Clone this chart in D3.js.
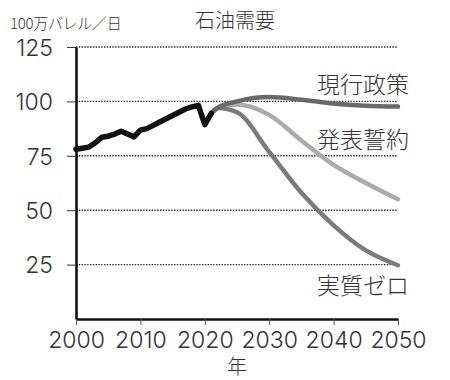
<!DOCTYPE html>
<html><head><meta charset="utf-8">
<script src="https://cdn.jsdelivr.net/npm/d3@7"></script>
<style>
html,body{margin:0;padding:0;background:#fff;}
svg{display:block;}
</style></head>
<body>
<script>
const histYears = [2000,2001,2002,2003,2004,2005,2006,2007,2008,2009,2010,2011,2012,2013,2014,2015,2016,2017,2018,2019,2020,2021];
const histValues = [78,78.5,79,81,83.5,84,85,86.3,85,83.7,86.8,87.5,89,90.5,92,93.5,95,96.5,97.5,98.2,89.3,94.5];
const projYears = [2021,2022,2025,2030,2035,2040,2045,2050];
const stepsValues = [94.5,97,100,102,100.8,99,98,97.6];   // 現行政策
const apsValues   = [94.5,97,98.6,93.8,82,70.8,62.5,55];  // 発表誓約
const nzeValues   = [94.5,97,95,76.8,58,43,31.5,24.7];    // 実質ゼロ
const yTicks = [25,50,75,100,125];
const xTicks = [2000,2010,2020,2030,2040,2050];
const seriesNames = ["現行政策","発表誓約","実質ゼロ"];
const title = "石油需要";
const unitLabel = "100万バレル／日";
const xLabel = "年";

const W = 450, H = 380;
const svg = d3.select("body").append("svg").attr("width", W).attr("height", H);
const x = d3.scaleLinear().domain([2000,2050]).range([76,398]);
const y = d3.scaleLinear().domain([0,125]).range([319,47]);
const numFont = "Inter, 'Liberation Sans', Arial, sans-serif";
const cjkFont = "'Noto Sans CJK JP', 'Noto Sans', sans-serif";

// gridlines
svg.append("g").selectAll("line").data(yTicks).join("line")
  .attr("x1", x(2000)).attr("x2", x(2050))
  .attr("y1", d => y(d)).attr("y2", d => y(d))
  .attr("stroke", "#222").attr("stroke-width", 1.4)
  .attr("stroke-dasharray", "1.4,1.4");

// y axis
const gy = svg.append("g").attr("transform", `translate(${x(2000)},0)`)
  .call(d3.axisLeft(y).tickValues(yTicks).tickSize(9).tickSizeOuter(0).tickPadding(14));
gy.select(".domain").attr("stroke", "#111").attr("stroke-width", 2.6);
gy.selectAll(".tick line").attr("stroke", "#333").attr("stroke-width", 1);
gy.selectAll(".tick text").attr("font-family", numFont).attr("font-size", 23).attr("font-weight", 300)
  .attr("fill", "#333").attr("dy", "0.36em");

// x axis
const gx = svg.append("g").attr("transform", `translate(0,${y(0)})`)
  .call(d3.axisBottom(x).tickValues(xTicks).tickFormat(d3.format("d")).tickSize(6).tickSizeOuter(0).tickPadding(6));
gx.select(".domain").attr("stroke", "#111").attr("stroke-width", 2.6);
gx.selectAll(".tick line").attr("stroke", "#555").attr("stroke-width", 1);
gx.selectAll(".tick text").attr("font-family", numFont).attr("font-size", 23).attr("font-weight", 300)
  .attr("fill", "#333").attr("dy", "0.72em");

// lines
const lineLin = d3.line().x(d => x(d[0])).y(d => y(d[1]));
const lineCurve = d3.line().x(d => x(d[0])).y(d => y(d[1])).curve(d3.curveMonotoneX);
const proj = [
  {vals: apsValues, color: "#ababab"},
  {vals: nzeValues, color: "#7b7b7b"},
  {vals: stepsValues, color: "#696969"}
];
proj.forEach(p => {
  svg.append("path").datum(projYears.map((yr,i) => [yr, p.vals[i]]))
    .attr("d", lineCurve).attr("fill", "none").attr("stroke", p.color)
    .attr("stroke-width", 4.5).attr("stroke-linecap", "round").attr("stroke-linejoin", "round");
});
svg.append("path").datum(histYears.map((yr,i) => [yr, histValues[i]]))
  .attr("d", lineLin).attr("fill", "none").attr("stroke", "#111")
  .attr("stroke-width", 5.5).attr("stroke-linecap", "round").attr("stroke-linejoin", "round");

// series labels
const labelPos = [[317, 83],[317, 138],[317, 284]];
seriesNames.forEach((n,i) => {
  svg.append("text").attr("x", labelPos[i][0]).attr("y", labelPos[i][1])
    .attr("dominant-baseline", "central")
    .attr("font-family", cjkFont).attr("font-size", 23).attr("font-weight", 300).attr("fill", "#333").text(n);
});

// title & labels
svg.append("text").attr("x", 195).attr("y", 19).attr("dominant-baseline", "central")
  .attr("font-family", cjkFont).attr("font-size", 20).attr("font-weight", 300).attr("fill", "#333").text(title);
svg.append("text").attr("x", 10).attr("y", 22).attr("dominant-baseline", "central")
  .attr("font-family", cjkFont).attr("font-size", 15).attr("font-weight", 300).attr("letter-spacing", -0.3).attr("fill", "#333").text(unitLabel);
svg.append("text").attr("x", 237).attr("y", 365).attr("text-anchor", "middle").attr("dominant-baseline", "central")
  .attr("font-family", cjkFont).attr("font-size", 20).attr("font-weight", 300).attr("fill", "#333").text(xLabel);
</script>
</body></html>
